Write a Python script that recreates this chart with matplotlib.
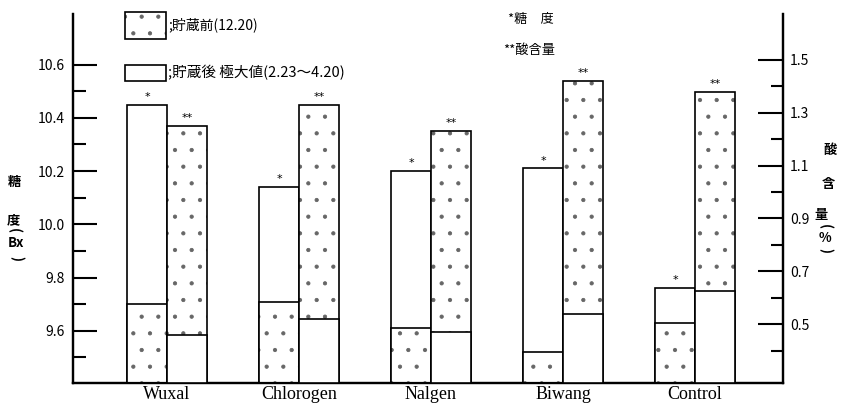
import matplotlib as mpl
mpl.use('Agg')
import matplotlib.pyplot as plt
from matplotlib.patches import Rectangle
import numpy as np

plt.rcParams['font.family'] = ['Noto Sans CJK JP', 'DejaVu Sans']
plt.rcParams['hatch.linewidth'] = 0.6

treatments = ['Wuxal', 'Chlorogen', 'Nalgen', 'Biwang', 'Control']
# sugar content (Brix), left axis
sugar_before = [9.70, 9.71, 9.61, 9.52, 9.63]
sugar_after = [10.45, 10.14, 10.20, 10.21, 9.76]
# acid content (%), right axis
acid_before = [1.25, 1.33, 1.23, 1.42, 1.38]
acid_after = [0.46, 0.52, 0.47, 0.54, 0.625]

sugar_major = [9.6, 9.8, 10.0, 10.2, 10.4, 10.6]
sugar_minor = [9.5, 9.7, 9.9, 10.1, 10.3, 10.5]
acid_major = [0.5, 0.7, 0.9, 1.1, 1.3, 1.5]
acid_minor = [0.4, 0.6, 0.8, 1.0, 1.2, 1.4]

W, H = 842, 408
DOTS = '#666666'


def fx(px):
    return px / W


def fy(py):
    return 1 - py / H


def stack(ax, xs, tall, short, lo, tall_dotted):
    # taller bar first, shorter one drawn over it; stipple in grey, outline in black
    for vals, dotted, z in ((tall, tall_dotted, 2), (short, not tall_dotted, 3)):
        ax.bar(xs, vals - lo, bottom=lo, width=w, color='white', linewidth=0,
               edgecolor=DOTS if dotted else 'white', hatch='.' if dotted else None,
               zorder=z)
        ax.bar(xs, vals - lo, bottom=lo, width=w, fill=False, edgecolor='black',
               linewidth=1.2, zorder=z + 0.5)


fig = plt.figure(figsize=(W / 100, H / 100), dpi=100)
ax1 = fig.add_axes([fx(73), fy(383), (783 - 73) / W, (383 - 14) / H])
ax2 = ax1.twinx()

s_lo, s_hi = 9.404, 10.79
a_lo, a_hi = 0.277, 1.674
ax1.set_xlim(-0.712, 4.667)
ax1.set_ylim(s_lo, s_hi)
ax2.set_ylim(a_lo, a_hi)

x = np.arange(len(treatments))
w = 0.303
sb = np.array(sugar_before)
sa = np.array(sugar_after)
ab = np.array(acid_before)
aa = np.array(acid_after)

stack(ax1, x - w / 2, sa, sb, s_lo, tall_dotted=False)
stack(ax2, x + w / 2, ab, aa, a_lo, tall_dotted=True)

for xi, v in zip(x, sa):
    ax1.annotate('*', (xi - w / 2, v), xytext=(0, 2), textcoords='offset points',
                 ha='center', va='bottom', fontsize=8, family='DejaVu Sans')
for xi, v in zip(x, ab):
    ax2.annotate('**', (xi + w / 2, v), xytext=(0, 2), textcoords='offset points',
                 ha='center', va='bottom', fontsize=8, family='DejaVu Sans')

for ax in (ax1, ax2):
    ax.spines['top'].set_visible(False)
    for s in ('left', 'right', 'bottom'):
        ax.spines[s].set_linewidth(1.6)

ax1.set_xticks(x)
ax1.set_xticklabels(treatments, family='Liberation Serif', fontsize=13)
ax1.tick_params(axis='x', length=0, pad=2)

ax1.set_yticks(sugar_major)
ax1.set_yticks(sugar_minor, minor=True)
ax1.set_yticklabels(['{:.1f}'.format(v) for v in sugar_major])
ax1.tick_params(axis='y', which='major', direction='in', length=17, width=1.5,
                pad=6, labelsize=10)
ax1.tick_params(axis='y', which='minor', direction='in', length=9, width=1.5)

ax2.set_yticks(acid_major)
ax2.set_yticks(acid_minor, minor=True)
ax2.set_yticklabels(['{:.1f}'.format(v) for v in acid_major])
ax2.tick_params(axis='y', which='major', direction='in', length=18, width=1.5,
                pad=5, labelsize=10)
ax2.tick_params(axis='y', which='minor', direction='in', length=9, width=1.5)

# axis titles written vertically, one glyph at a time; brackets turned sideways
left_label = [('糖', 14, 182, 0), ('度', 13, 220, 0), ('(', 14, 231, -90),
              ('Bx', 16, 243, 0), (')', 16, 258, -90)]
for t, px, py, rot in left_label:
    fig.text(fx(px), fy(py), t, ha='center', va='center', fontsize=9.5,
             weight='bold', rotation=rot)
right_label = [('酸', 830, 150, 0), ('含', 828, 184, 0), ('量', 821, 215, 0),
               ('(', 825, 226, -90), ('%', 825, 238, 0), (')', 825, 250, -90)]
for t, px, py, rot in right_label:
    fig.text(fx(px), fy(py), t, ha='center', va='center', fontsize=9.5,
             weight='bold', rotation=rot)

# legend boxes
fig.add_artist(Rectangle((fx(125), fy(39)), 41 / W, 27 / H, transform=fig.transFigure,
                         facecolor='white', edgecolor=DOTS, linewidth=0, hatch='.'))
fig.add_artist(Rectangle((fx(125), fy(39)), 41 / W, 27 / H, transform=fig.transFigure,
                         fill=False, edgecolor='black', linewidth=1.2))
fig.add_artist(Rectangle((fx(125), fy(81)), 41 / W, 16 / H, transform=fig.transFigure,
                         facecolor='white', edgecolor='black', linewidth=1.2))
fig.text(fx(168), fy(25), ';貯蔵前(12.20)', ha='left', va='center', fontsize=10)
fig.text(fx(168), fy(73), ';貯蔵後 極大値(2.23～4.20)', ha='left', va='center', fontsize=10.5)

fig.text(fx(508), fy(20), '*糖　度', ha='left', va='center', fontsize=9.5)
fig.text(fx(503), fy(50), '**酸含量', ha='left', va='center', fontsize=9.5)

fig.savefig('out.png', dpi=100)
